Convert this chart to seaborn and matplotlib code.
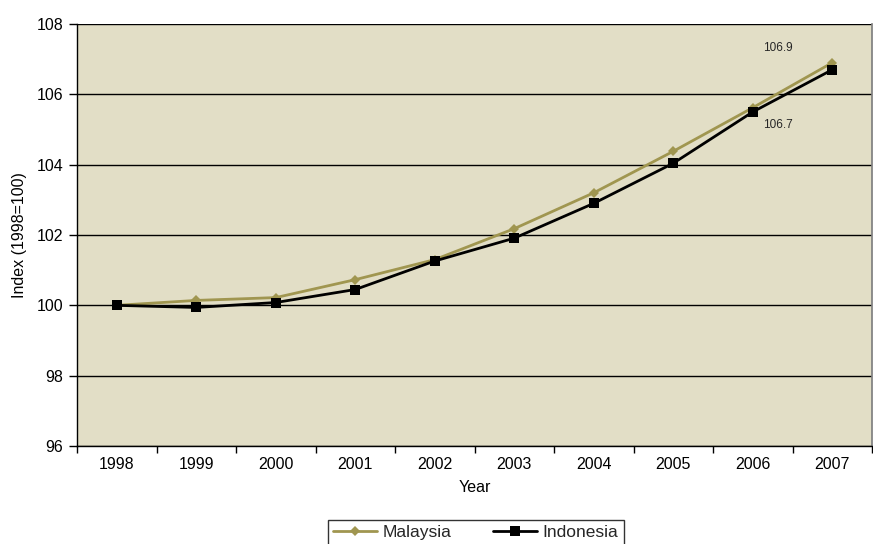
import matplotlib
matplotlib.use("Agg")
import matplotlib.pyplot as plt
import seaborn as sns
import pandas as pd
import numpy as np

years = ["1998", "1999", "2000", "2001", "2002", "2003", "2004", "2005", "2006", "2007"]
malaysia = [100.0, 100.14, 100.22, 100.73, 101.3, 102.18, 103.2, 104.38, 105.62, 106.9]
indonesia = [100.0, 99.94, 100.08, 100.45, 101.26, 101.91, 102.9, 104.04, 105.5, 106.7]
series_names = ["Malaysia", "Indonesia"]

df = pd.DataFrame({
    "pos": list(range(len(years))) * 2,
    "Year": years * 2,
    "Index": malaysia + indonesia,
    "Country": [series_names[0]] * len(years) + [series_names[1]] * len(years),
})

sns.set_theme(style="white")
plt.rcParams["font.family"] = ["Liberation Sans", "DejaVu Sans"]

olive = "#A09650"
bg = "#E2DEC6"

fig = plt.figure(figsize=(8.73, 5.44), dpi=100)
ax = fig.add_axes([77 / 873, 1 - 446 / 544, 795 / 873, 422 / 544])
ax.set_facecolor(bg)

sns.lineplot(
    data=df, x="pos", y="Index", hue="Country", style="Country",
    palette={"Malaysia": olive, "Indonesia": "black"},
    markers={"Malaysia": "D", "Indonesia": "s"},
    dashes=False, markersize=6.5, linewidth=2, markeredgewidth=0,
    ax=ax, legend=False, zorder=3,
)
# smaller diamonds than squares
for line, ms in zip(ax.lines, [5.5, 7.5]):
    line.set_markersize(ms)

ax.set_xlim(-0.5, len(years) - 0.5)
ax.set_ylim(96, 108)
ax.set_yticks(np.arange(96, 109, 2))
ax.yaxis.grid(True, color="black", linewidth=1)
ax.set_axisbelow(True)

ax.set_xticks(range(len(years)))
ax.set_xticklabels(years)
ax.set_xticks(np.arange(-0.5, len(years), 1), minor=True)
ax.tick_params(axis="x", which="major", length=0, labelsize=11.5, pad=8, colors="black")
ax.tick_params(axis="x", which="minor", length=5, width=1, color="black", direction="out", bottom=True)
ax.tick_params(axis="y", which="major", length=6, width=1, color="black", direction="out",
               left=True, labelsize=11.5, pad=4, labelcolor="black")

for side in ["left", "bottom"]:
    ax.spines[side].set_color("black")
    ax.spines[side].set_linewidth(1)
ax.spines["right"].set_color("#808080")
ax.spines["top"].set_visible(False)

ax.set_xlabel("Year", fontsize=11.5, labelpad=6, color="black")
ax.set_ylabel("Index (1998=100)", fontsize=11.5, labelpad=7, color="black")

# end-value labels (offsets in points)
ax.annotate(f"{malaysia[-1]:.1f}", xy=(len(years) - 1, malaysia[-1]), xytext=(-39.5, 10.5),
            textcoords="offset points", fontsize=8.5, ha="center", va="center")
ax.annotate(f"{indonesia[-1]:.1f}", xy=(len(years) - 1, indonesia[-1]), xytext=(-39, -40),
            textcoords="offset points", fontsize=8.5, ha="center", va="center")

handles = [
    plt.Line2D([], [], color=olive, marker="D", markersize=5.5, markeredgewidth=0, linewidth=2),
    plt.Line2D([], [], color="black", marker="s", markersize=7.5, markeredgewidth=0, linewidth=2),
]
leg = fig.legend(handles, series_names, loc="upper center", bbox_to_anchor=(476 / 873, 1 - 511 / 544),
                 ncol=2, frameon=True, fancybox=False, edgecolor="black", fontsize=12.5,
                 handlelength=2.5, columnspacing=2.4, borderpad=0.3, handletextpad=0.35)
leg.get_frame().set_linewidth(1)

fig.savefig("out.png", dpi=100, facecolor="white")
